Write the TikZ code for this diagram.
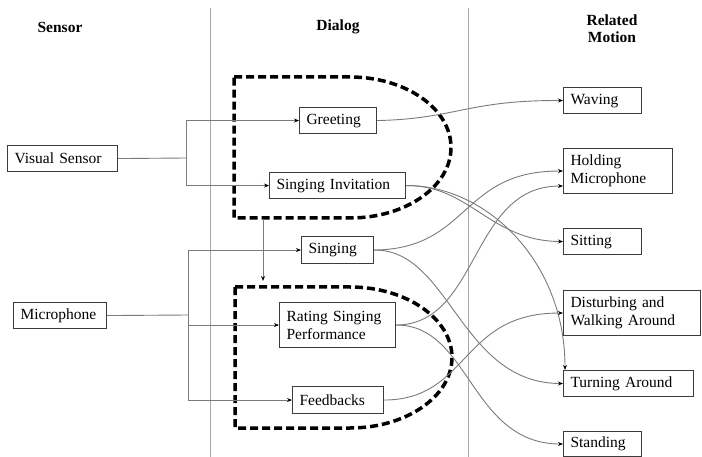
\documentclass[tikz,border=0pt]{standalone}
\usepackage{fontspec}
\setmainfont{Liberation Serif}
\usetikzlibrary{arrows.meta}
\definecolor{boxc}{HTML}{3C3C3C}
\definecolor{lnc}{HTML}{7A7A7A}
\definecolor{sepc}{HTML}{A8A8A8}
\begin{document}
\begin{tikzpicture}[x=1pt,y=-1pt,
 bx/.style={draw=boxc, line width=1.1pt, anchor=north west, inner xsep=7pt, inner ysep=0pt, align=left, font=\fontsize{15.5}{18}\selectfont},
 conn/.style={draw=lnc, line width=0.9pt},
 arr/.style={conn, -{Stealth[length=5pt,width=4pt,color=black]}},
 dsh/.style={line width=3.5pt, dash pattern=on 8pt off 4pt, line join=round},
 hdr/.style={font=\fontsize{15.5}{17}\selectfont\bfseries, align=center},
 sep/.style={draw=sepc, line width=0.9pt}]
\useasboundingbox (0,0) rectangle (702,457);

% separators
\coordinate (s1t) at (210,8); \coordinate (s1b) at (210,457);
\coordinate (s2t) at (468,8); \coordinate (s2b) at (468,457);
\draw[sep] (s1t) -- (s1b);
\draw[sep] (s2t) -- (s2b);

% headers
\node[hdr] (h1) at (60,27) {Sensor};
\node[hdr] (h2) at (338,27) {Dialog};
\node[hdr] (h3) at (612,29) {Related\\Motion};

% dashed groups
\draw[dsh] (234,77) -- (350,77) .. controls (405.8,77) and (451,108.6) .. (451,147.5)
  .. controls (451,186.4) and (405.8,218) .. (350,218) -- (234,218) -- cycle;
\draw[dsh] (235,287) -- (350,287) .. controls (406,287) and (452,318.5) .. (452,357.5)
  .. controls (452,396.5) and (406,428) .. (350,428) -- (235,428) -- cycle;

% sensor boxes
\node[bx, text width=96pt, minimum height=26pt] (vis) at (7,145) {Visual Sensor};
\node[bx, text width=79pt, minimum height=26pt] (mic) at (13,302) {Microphone};

% dialog boxes
\node[bx, text width=63pt, minimum height=26pt] (greet) at (299,107) {Greeting};
\node[bx, text width=122pt, minimum height=26pt] (inv) at (269,172) {Singing Invitation};
\node[bx, text width=58pt, minimum height=27pt] (sing) at (301,236) {Singing};
\node[bx, text width=102pt, minimum height=45pt] (rate) at (279,302) {Rating Singing\\Performance};
\node[bx, text width=77pt, minimum height=27pt] (feed) at (292,386) {Feedbacks};

% motion boxes
\node[bx, text width=64pt, minimum height=26pt] (wav) at (563,87) {Waving};
\node[bx, text width=95pt, minimum height=45pt] (hold) at (563,148) {Holding\\Microphone};
\node[bx, text width=64pt, minimum height=26pt] (sit) at (563,228) {Sitting};
\node[bx, text width=123pt, minimum height=45pt] (dist) at (563,290) {Disturbing and\\Walking Around};
\node[bx, text width=116pt, minimum height=26pt] (turn) at (563,370) {Turning Around};
\node[bx, text width=64pt, minimum height=25pt] (stand) at (563,431) {Standing};

% sensor connectors
\coordinate (vb) at (186,158);
\draw[conn] (vis.east) -- (vb);
\draw[arr] (vb) |- (greet.west);
\draw[arr] (vb) |- (inv.west);
\coordinate (mb) at (188,315);
\draw[conn] (mic.east) -- (mb);
\draw[arr] (mb) |- (sing.west);
\draw[arr] (mb) |- (rate.west);
\draw[arr] (mb) |- (feed.west);

% group to group
\coordinate (d1) at (263,219);
\coordinate (d2) at (263,281);
\draw[arr] (d1) -- (d2);

% dialog to motion
\draw[arr] (greet.east) .. controls (455,119) and (468,100) .. (wav.west);
\draw[arr] (inv.east) .. controls (470,185) and (490,241) .. (sit.west);
\draw[arr] (inv.east) .. controls (485,185) and (565,260) .. ([xshift=2pt]turn.north west);
\draw[arr] (sing.east) .. controls (470,249) and (460,170.5) .. (hold.west);
\draw[arr] (sing.east) .. controls (450,249) and (460,383) .. (turn.west);
\draw[arr] (rate.east) .. controls (480,324.5) and (470,185.5) .. ([yshift=-15pt]hold.west);
\draw[arr] (rate.east) .. controls (470,324.5) and (470,443.5) .. (stand.west);
\draw[arr] (feed.east) .. controls (470,399.5) and (460,312.5) .. (dist.west);
\end{tikzpicture}
\end{document}
